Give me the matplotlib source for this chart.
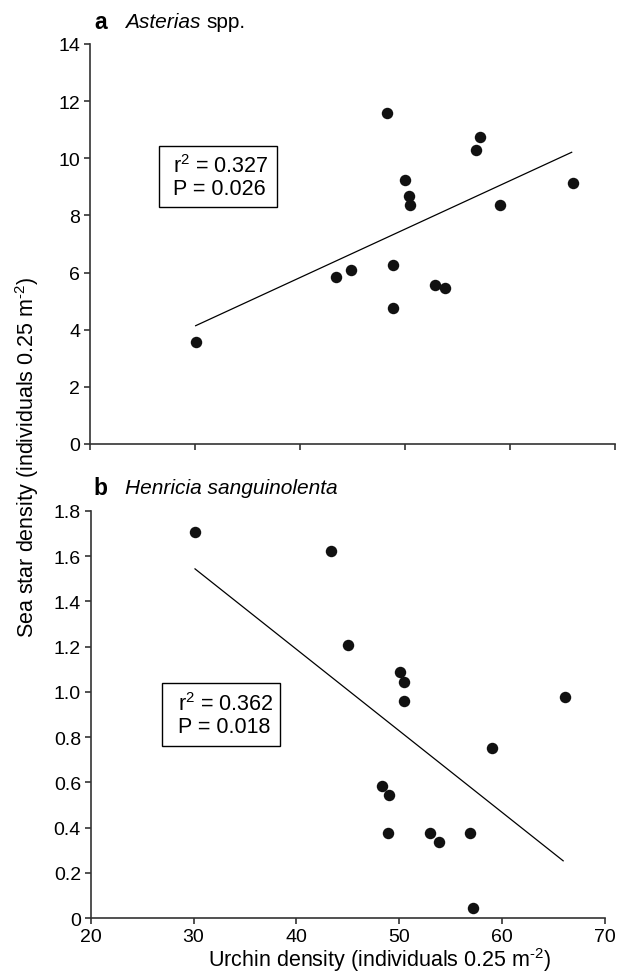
import matplotlib
matplotlib.use("Agg")
import matplotlib.pyplot as plt
from matplotlib.patches import Rectangle

plt.rcParams["font.family"] = ["Liberation Sans", "DejaVu Sans"]
plt.rcParams["mathtext.fontset"] = "custom"
plt.rcParams["mathtext.rm"] = "Liberation Sans"
plt.rcParams["mathtext.it"] = "Liberation Sans:italic"
plt.rcParams["mathtext.default"] = "regular"

# Panel a: Asterias spp.
urchin_a = [48.3, 57.1, 56.8, 50.0, 50.4, 50.5, 59.0, 66.0, 48.9, 44.9, 43.4, 52.9, 53.8, 48.9, 30.1]
star_a = [11.57, 10.76, 10.29, 9.25, 8.69, 8.38, 8.38, 9.12, 6.25, 6.09, 5.83, 5.55, 5.46, 4.76, 3.58]
fit_a_x = [30.06, 65.87]
fit_a_y = [4.14, 10.21]
stats_a = ["r$^{2}$ = 0.327", "P = 0.026"]

# Panel b: Henricia sanguinolenta
urchin_b = [30.1, 43.4, 45.0, 50.1, 50.5, 50.5, 66.1, 59.0, 48.3, 49.0, 48.9, 53.0, 53.9, 56.9, 57.2]
star_b = [1.706, 1.625, 1.209, 1.086, 1.042, 0.958, 0.976, 0.752, 0.585, 0.543, 0.376, 0.376, 0.335, 0.376, 0.044]
fit_b_x = [30.14, 65.93]
fit_b_y = [1.544, 0.253]
stats_b = ["r$^{2}$ = 0.362", "P = 0.018"]

x_ticks = [20, 30, 40, 50, 60, 70]
y_ticks_a = [0, 2, 4, 6, 8, 10, 12, 14]
y_ticks_b = [0, 0.2, 0.4, 0.6, 0.8, 1.0, 1.2, 1.4, 1.6, 1.8]
y_labels_b = ["0", "0.2", "0.4", "0.6", "0.8", "1.0", "1.2", "1.4", "1.6", "1.8"]

DOT = "#111111"
SPINE = "#333333"
TICK_FS = 14
TEXT_FS = 15.5
UNIT = "(individuals 0.25 m$^{\\text{-2}}$)"


def style_axis(ax):
    for side in ("top", "right"):
        ax.spines[side].set_visible(False)
    for side in ("left", "bottom"):
        ax.spines[side].set_color(SPINE)
        ax.spines[side].set_linewidth(1.2)
    ax.tick_params(direction="out", length=4, width=1.2, color=SPINE,
                   labelsize=TICK_FS, pad=3)


def stat_box(ax, rect, text_x, text_ys, lines):
    x0, y0, x1, y1 = rect
    ax.add_patch(Rectangle((x0, y0), x1 - x0, y1 - y0, transform=ax.transAxes,
                           facecolor="white", edgecolor="black", linewidth=1.0))
    for ty, line in zip(text_ys, lines):
        ax.text(text_x, ty, line, transform=ax.transAxes, ha="left", va="center",
                fontsize=TEXT_FS)


fig = plt.figure(figsize=(6.26, 9.78), dpi=100)

# ── panel a ──
ax_a = fig.add_axes([0.1438, 0.545, 0.8387, 0.409])
ax_a.scatter(urchin_a, star_a, s=68, color=DOT, zorder=3, linewidths=0)
ax_a.plot(fit_a_x, fit_a_y, color="black", linewidth=0.9)
ax_a.set_xlim(20, 70)
ax_a.set_ylim(0, 14)
ax_a.set_xticks(x_ticks)
ax_a.set_xticklabels([])
ax_a.set_yticks(y_ticks_a)
style_axis(ax_a)
stat_box(ax_a, (0.131, 0.5925, 0.356, 0.745), 0.158, (0.695, 0.6375), stats_a)

# ── panel b ──
ax_b = fig.add_axes([0.1449, 0.0603, 0.8216, 0.4162])
ax_b.scatter(urchin_b, star_b, s=68, color=DOT, zorder=3, linewidths=0)
ax_b.plot(fit_b_x, fit_b_y, color="black", linewidth=0.9)
ax_b.set_xlim(20, 70)
ax_b.set_ylim(0, 1.8)
ax_b.set_xticks(x_ticks)
ax_b.set_yticks(y_ticks_b)
ax_b.set_yticklabels(y_labels_b)
style_axis(ax_b)
stat_box(ax_b, (0.139, 0.423, 0.369, 0.577), 0.170, (0.526, 0.470), stats_b)

# ── panel titles ──
fig.text(0.150, 0.9765, "a", fontsize=16.5, fontweight="bold", ha="left", va="center")
fig.text(0.199, 0.9765, "Asterias", fontsize=15, style="italic", ha="left", va="center")
fig.text(0.329, 0.9765, "spp.", fontsize=15, ha="left", va="center")
fig.text(0.150, 0.501, "b", fontsize=16.5, fontweight="bold", ha="left", va="center")
fig.text(0.199, 0.501, "Henricia sanguinolenta", fontsize=15, style="italic",
         ha="left", va="center")

# ── shared axis labels ──
fig.text(0.043, 0.532, "Sea star density " + UNIT, rotation=90,
         fontsize=TEXT_FS, ha="center", va="center")
fig.text(0.607, 0.0184, "Urchin density " + UNIT,
         fontsize=TEXT_FS, ha="center", va="center")

fig.savefig("out.png", dpi=100)
